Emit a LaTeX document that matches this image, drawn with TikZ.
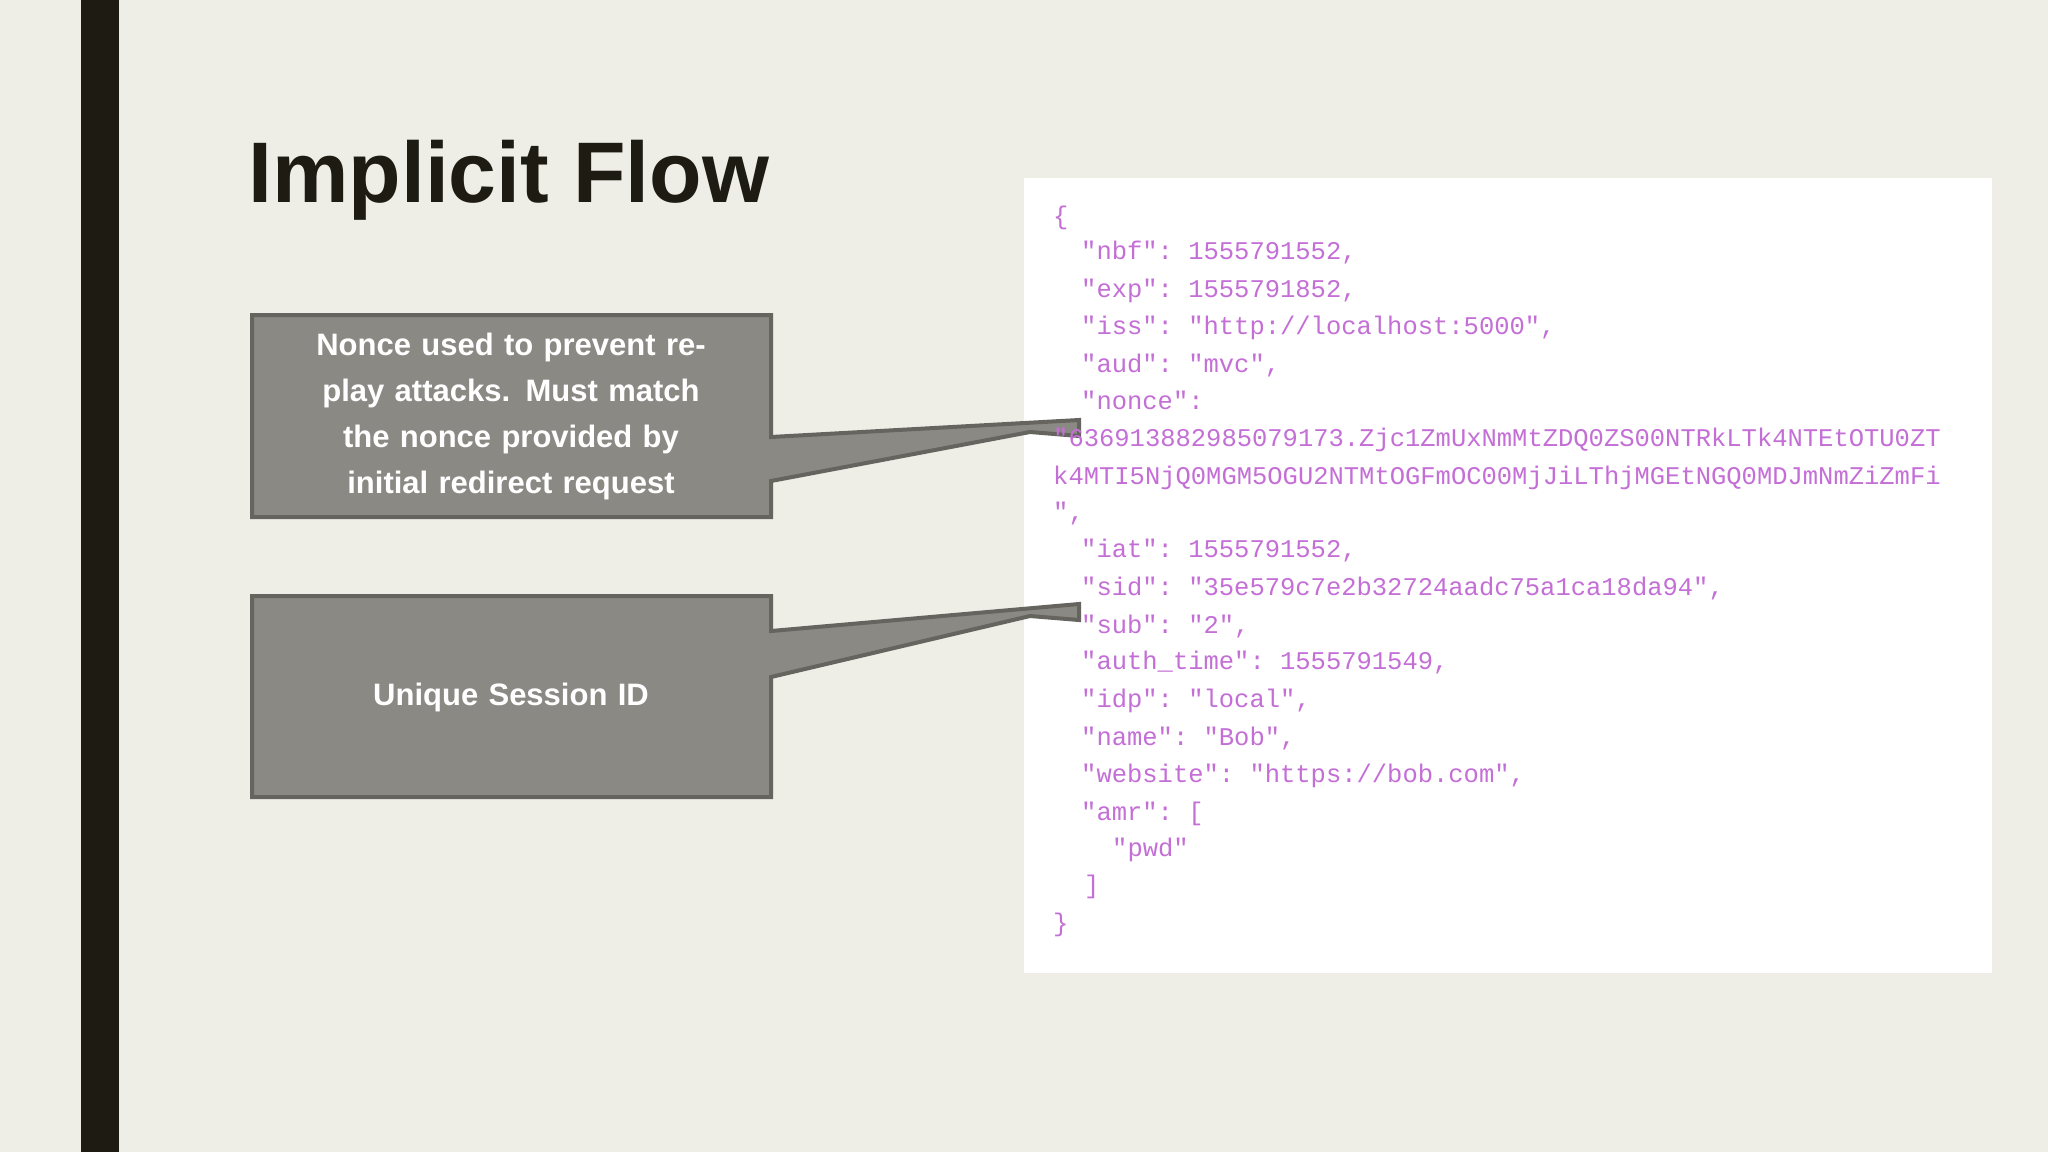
\documentclass[tikz,border=0pt]{standalone}
\usepackage{fontspec}
\setmainfont{Liberation Sans}
\setmonofont{Liberation Mono}
\definecolor{bg}{HTML}{EEEDE6}
\definecolor{bar}{HTML}{1E1C12}
\definecolor{boxfill}{HTML}{8A8984}
\definecolor{boxline}{HTML}{65645F}
\definecolor{code}{HTML}{C46FD6}
\tikzset{
  codeline/.style={anchor=mid west, inner sep=0pt, font=\fontsize{25.5}{26}\ttfamily, text=code},
  calltext/.style={text=white, align=center, font=\fontsize{31}{46}\selectfont\bfseries, text width=500pt},
  callout/.style={fill=boxfill, draw=boxline, line width=4pt, line join=miter},
}
\begin{document}
\begin{tikzpicture}[x=1pt,y=-1pt]
\useasboundingbox (0,0) rectangle (2048,1152);
\fill[bg] (0,0) rectangle (2048,1152);
\fill[bar] (81,0) rectangle (119,1152);
\node[anchor=base west, inner sep=0pt, font=\fontsize{86}{90}\selectfont\bfseries, text=bar] (title) at (248,202) {Implicit Flow};
\fill[white] (1024,178) rectangle (1992,973);
% callouts
\draw[callout] (252,315) -- (771,315) -- (771,437) -- (1079,420) -- (1079,436) -- (1030,432) -- (771,481) -- (771,517) -- (252,517) -- cycle;
\draw[callout] (252,596) -- (771,596) -- (771,631) -- (1079,604) -- (1079,620) -- (1030,616) -- (771,677) -- (771,797) -- (252,797) -- cycle;
\node[calltext] (c1) at (511,416) {Nonce used to prevent replay attacks. Must match the nonce provided by initial redirect request};
\node[calltext] (c2) at (511,697) {Unique Session ID};
% code
\node[codeline] (l1) at (1053,222) {\{};
\node[codeline] (l2) at (1081,257) {"nbf": 1555791552,};
\node[codeline] (l3) at (1081,295) {"exp": 1555791852,};
\node[codeline] (l4) at (1081,332) {"iss": "http://localhost:5000",};
\node[codeline] (l5) at (1081,370) {"aud": "mvc",};
\node[codeline] (l6) at (1081,407) {"nonce":};
\node[codeline] (l7) at (1053,444) {"636913882985079173.Zjc1ZmUxNmMtZDQ0ZS00NTRkLTk4NTEtOTU0ZT};
\node[codeline] (l8) at (1053,482) {k4MTI5NjQ0MGM5OGU2NTMtOGFmOC00MjJiLThjMGEtNGQ0MDJmNmZiZmFi};
\node[codeline] (l9) at (1053,518) {",};
\node[codeline] (l10) at (1081,555) {"iat": 1555791552,};
\node[codeline] (l11) at (1081,593) {"sid": "35e579c7e2b32724aadc75a1ca18da94",};
\node[codeline] (l12) at (1081,631) {"sub": "2",};
\node[codeline] (l13) at (1081,667) {"auth\_time": 1555791549,};
\node[codeline] (l14) at (1081,705) {"idp": "local",};
\node[codeline] (l15) at (1081,743) {"name": "Bob",};
\node[codeline] (l16) at (1081,780) {"website": "https://bob.com",};
\node[codeline] (l17) at (1081,818) {"amr": [};
\node[codeline] (l18) at (1112,854) {"pwd"};
\node[codeline] (l19) at (1084,891) {]};
\node[codeline] (l20) at (1053,929) {\}};
\end{tikzpicture}
\end{document}
